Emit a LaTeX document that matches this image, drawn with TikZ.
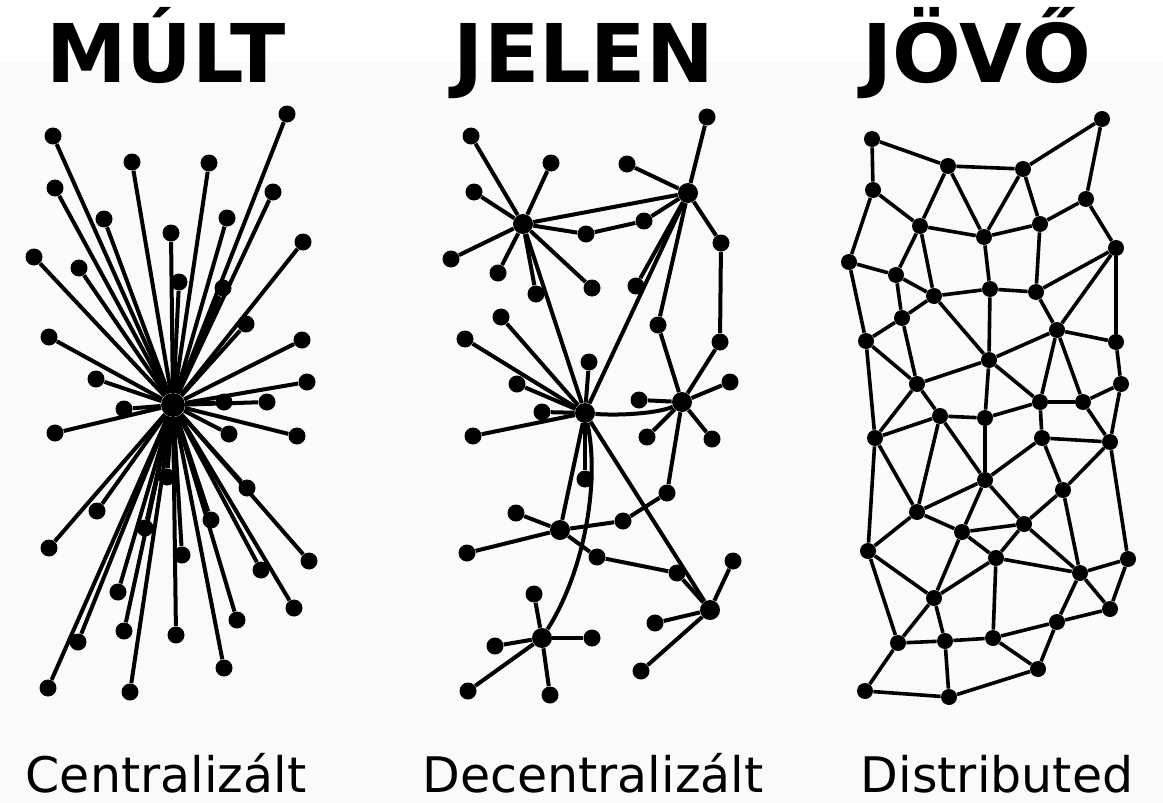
\documentclass[tikz,border=0pt]{standalone}
\usepackage{fontspec}
\setmainfont{DejaVu Sans}
\usepackage{tikz}
\usepackage{xcolor}
\definecolor{bgband}{RGB}{250,250,250}

\tikzset{
    dot/.style={circle, fill=black, inner sep=0pt, minimum size=8.5pt},
    hubdot/.style={circle, fill=black, inner sep=0pt, minimum size=10pt},
    link/.style={line width=2pt},
    title/.style={anchor=base, font=\fontsize{40.5}{40.5}\selectfont\bfseries},
    caption/.style={anchor=base, font=\fontsize{24.5}{24.5}\selectfont},
}

\begin{document}
\begin{tikzpicture}[x=0.5pt, y=0.5pt]
        \useasboundingbox (0,0) rectangle (1163,-803);
        \fill[bgband] (0,-62) rectangle (1163,-803);

        % titles and captions
        \node (tmult)  at ( 166, -83) [title] {MÚLT};
        \node (tjelen) at ( 584, -83) [title] {JELEN};
        \node (tjovo)  at ( 977, -83) [title] {JÖVŐ};
        \node (ccent)  at ( 166,-792) [caption] {Centralizált};
        \node (cdec)   at ( 593,-792) [caption] {Decentralizált};
        \node (cdist)  at ( 997,-792) [caption] {Distributed};

        % centralised
        \node (ctr) at (173,-405) [hubdot, minimum size=12pt] {};
        \foreach \i/\x/\y in {1/53/136, 2/132/162, 3/209/163, 4/287/114, 5/55/188, 6/273/192,
                7/104/219, 8/227/218, 9/171/233, 10/303/242, 11/34/257, 12/79/268, 13/179/282,
                14/223/288, 15/246/324, 16/49/337, 17/302/340, 18/96/379, 19/307/382, 20/224/402,
                21/267/402, 22/124/409, 23/55/433, 24/229/434, 25/297/436, 26/247/488, 27/167/477,
                28/97/511, 29/211/520, 30/145/528, 31/309/561, 32/49/548, 33/261/570, 34/182/555,
                35/118/592, 36/294/608, 37/237/620, 38/124/631, 39/176/635, 40/78/642, 41/224/668,
                42/48/688, 43/130/692} {
            \node (m\i) at (\x,-\y) [dot] {};
            \draw[link] (ctr) -- (m\i);
        }

        % decentralised
        \node (hA) at (523,-224) [hubdot] {};
        \node (hB) at (688,-193) [hubdot] {};
        \node (hC) at (585,-413) [hubdot] {};
        \node (hD) at (682,-402) [hubdot] {};
        \node (hE) at (560,-530) [hubdot] {};
        \node (hF) at (542,-638) [hubdot] {};
        \node (hG) at (710,-610) [hubdot] {};
        \foreach \n/\x/\y in {a1/471/136, a2/551/163, a3/474/192, a4/451/259, a5/498/273,
                a6/536/294, a7/592/288, a8/586/234,
                b1/707/117, b2/627/164, b3/644/221, b4/721/243, b5/636/286, b6/658/325, b7/720/342,
                c1/501/317, c2/465/339, c3/517/384, c4/589/362, c5/542/412, c6/473/436, c7/585/479,
                d1/639/400, d2/647/437, d3/712/439, d4/667/493, d5/730/382,
                e1/516/513, e2/467/553, e3/623/521, e4/597/557, e5/677/573,
                f1/534/594, f2/495/646, f3/592/638, f4/468/691, f5/550/695,
                g1/733/561, g2/655/623, g3/641/671}
            \node (\n) at (\x,-\y) [dot] {};
        \foreach \a/\b in {hA/a1, hA/a2, hA/a3, hA/a4, hA/a5, hA/a6, hA/a7, hA/a8, a8/b3, b3/hB,
                hA/hB, hA/hC, hB/b1, hB/b2, hB/b4, hB/b5, hB/b6, hB/hC, b4/b7, b7/hD, b6/hD,
                hD/d1, hD/d2, hD/d3, hD/d4, hD/d5, d4/e3, e3/hE,
                hC/c1, hC/c2, hC/c3, hC/c4, hC/c5, hC/c6, hC/c7, hC/hE, hC/hG,
                hE/e1, hE/e2, hE/e4, e4/e5, e5/hG, hG/g1, hG/g2, hG/g3,
                hF/f1, hF/f2, hF/f3, hF/f4, hF/f5}
            \draw[link] (\a) -- (\b);
        \draw[link] (hC) .. controls (620,-416) and (660,-413) .. (hD);
        \draw[link] (hC) .. controls (600,-480) and (585,-570) .. (hF);

        % distributed
        \foreach \i/\x/\y in {1/872/139, 2/948/166, 3/1023/169, 4/1102/119, 5/873/190, 6/1086/199,
                7/920/226, 8/984/237, 9/1040/224, 10/1116/248, 11/849/262, 12/896/275, 13/934/296,
                14/990/289, 15/1036/292, 16/902/318, 17/1057/330, 18/866/341, 19/1116/342,
                20/989/360, 21/917/384, 22/1121/384, 23/1040/402, 24/1083/402, 25/940/416,
                26/985/418, 27/875/438, 28/1042/438, 29/1110/442, 30/985/480, 31/1063/490,
                32/917/512, 33/962/532, 34/1024/524, 35/868/551, 36/996/558, 37/1128/559,
                38/1080/573, 39/934/598, 40/1110/609, 41/1057/622, 42/898/643, 43/945/641,
                44/993/638, 45/1038/669, 46/865/691, 47/949/697}
            \node (p\i) at (\x,-\y) [dot, minimum size=8pt] {};
        \foreach \a/\b in {1/2, 1/5, 2/3, 3/4, 4/6, 2/7, 2/8, 3/8, 3/9, 5/7, 5/11, 7/8, 7/12, 7/13,
                8/14, 8/9, 9/6, 9/15, 6/10, 11/12, 11/18, 12/13, 12/16, 13/14, 13/16, 13/20, 14/15,
                14/20, 15/10, 15/17, 10/17, 10/19, 16/18, 16/21, 18/21, 17/19, 17/20, 17/23, 17/24,
                19/22, 20/21, 20/23, 20/26, 23/24, 24/22, 22/29, 18/27, 21/27, 21/25,
                27/25, 25/26, 26/23, 23/28, 24/29, 28/29, 25/30, 26/30, 30/28, 25/32, 27/32, 27/35,
                32/33, 30/32, 30/33, 30/34, 34/31, 31/28, 31/29, 31/38, 34/38, 33/34, 33/36, 34/36,
                36/38, 36/39, 33/39, 32/35, 35/39, 35/42, 39/42, 39/43, 42/43, 43/44, 36/44, 44/41,
                44/45, 41/45, 41/38, 41/40, 38/40, 38/37, 37/40, 29/37, 42/46, 46/47, 43/47, 47/45}
            \draw[link, line width=1.8pt] (p\a) -- (p\b);
    \end{tikzpicture}
\end{document}
